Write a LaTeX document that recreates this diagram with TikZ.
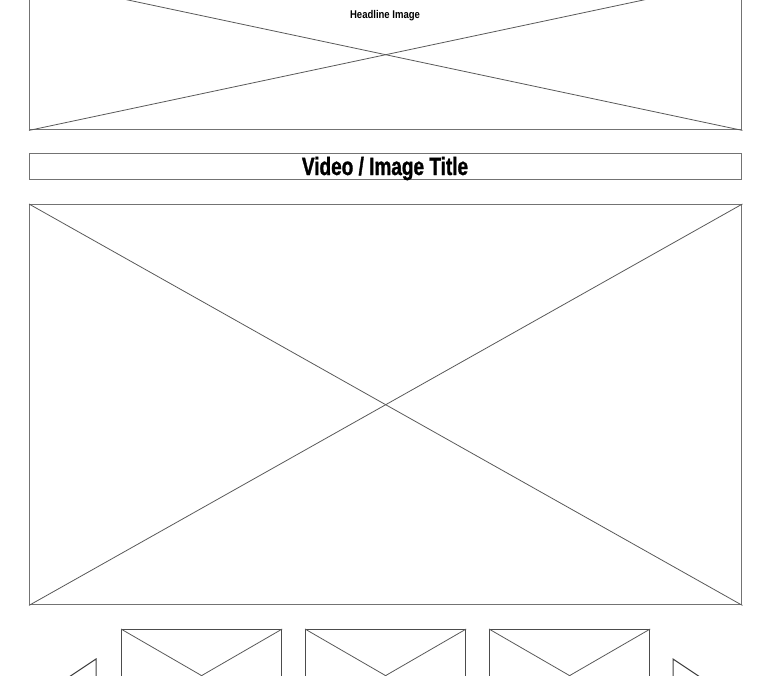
\documentclass[tikz,border=0pt]{standalone}
\usepackage{fontspec}
\newfontfamily\condfont[FakeStretch=0.85]{Liberation Sans}
\newfontfamily\titlefont[FakeStretch=0.76,FakeBold=1.2]{Liberation Sans}
\begin{document}
\begin{tikzpicture}[x=1pt,y=-1pt,
  frame/.style={draw=black!55,line width=1.4pt,inner sep=0pt,anchor=north west},
  thumb/.style={draw=black!70,line width=1.2pt,inner sep=0pt,anchor=north west,minimum width=160pt,minimum height=92pt},
  diag/.style={draw=black!65,line width=0.8pt},
  arrowtri/.style={draw=black!75,line width=1pt}]
\useasboundingbox (0,0) rectangle (768,675);
% headline image
\node[frame,minimum width=712pt,minimum height=150pt] (head) at (29,-21) {};
\draw[diag] (head.north west) -- (head.south east);
\draw[diag] (head.south west) -- (head.north east);
\node[font=\condfont\bfseries\fontsize{11.2}{13}\selectfont,inner sep=0pt,anchor=base] (headlbl) at (385,18) {Headline Image};
% title bar
\node[frame,minimum width=712pt,minimum height=26pt] (title) at (29,153) {};
\node[font=\titlefont\bfseries\fontsize{25}{28}\selectfont,inner sep=0pt,anchor=base] (titlelbl) at (385,175) {Video / Image Title};
% main image
\node[frame,minimum width=712pt,minimum height=400pt] (main) at (29,204) {};
\draw[diag] (main.north west) -- (main.south east);
\draw[diag] (main.south west) -- (main.north east);
% thumbnails
\foreach \n/\x in {t1/121,t2/305,t3/489}{
  \node[thumb] (\n) at (\x,629) {};
  \draw[diag] (\n.north west) -- (\n.south east);
  \draw[diag] (\n.south west) -- (\n.north east);
}
% arrows
\coordinate (la) at (96,659); \coordinate (lb) at (96,707); \coordinate (lc) at (60,683);
\draw[arrowtri] (la) -- (lb) -- (lc) -- cycle;
\coordinate (ra) at (673,659); \coordinate (rb) at (673,707); \coordinate (rc) at (709,683);
\draw[arrowtri] (ra) -- (rb) -- (rc) -- cycle;
\end{tikzpicture}
\end{document}
